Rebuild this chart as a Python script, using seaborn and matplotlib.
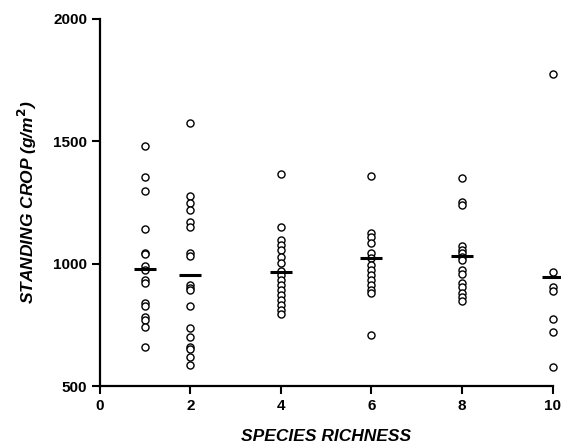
import numpy as np
import pandas as pd
import matplotlib
matplotlib.use("Agg")
import matplotlib.pyplot as plt
import seaborn as sns

# Data
richness_1 = [1480, 1355, 1298, 1140, 1045, 1040, 990, 975, 933, 921, 840, 827, 782, 772, 742, 661]
richness_2 = [1574, 1276, 1247, 1219, 1171, 1151, 1045, 1030, 913, 900, 892, 827, 736, 701, 661, 651, 620, 586]
richness_4 = [1366, 1151, 1097, 1076, 1056, 1028, 1004, 970, 954, 933, 913, 892, 872, 851, 831, 813, 793]
richness_6 = [1358, 1124, 1110, 1086, 1045, 1022, 995, 974, 954, 933, 913, 892, 879, 711]
richness_8 = [1351, 1250, 1240, 1072, 1056, 1043, 1028, 1015, 974, 958, 920, 903, 881, 865, 849]
richness_10 = [1775, 967, 905, 890, 773, 722, 579]
richness_levels = [1, 2, 4, 6, 8, 10]
mean_crop = [980, 955, 965, 1022, 1030, 945]

groups = [richness_1, richness_2, richness_4, richness_6, richness_8, richness_10]
df = pd.DataFrame({
    "richness": np.concatenate([[r] * len(g) for r, g in zip(richness_levels, groups)]),
    "crop": np.concatenate(groups),
})
means = pd.DataFrame({"richness": richness_levels, "crop": mean_crop})

sns.set_theme(style="white")
plt.rcParams["font.family"] = ["Liberation Sans", "DejaVu Sans"]
plt.rcParams["text.color"] = "black"
plt.rcParams["axes.labelcolor"] = "black"
plt.rcParams["xtick.color"] = "black"
plt.rcParams["ytick.color"] = "black"

fig = plt.figure(figsize=(5.61, 4.48), dpi=100)
ax = fig.add_axes([0.178, 0.138, 0.807, 0.82])

sns.scatterplot(data=df, x="richness", y="crop", ax=ax, marker="o", s=26,
                facecolor="white", edgecolor="black", linewidth=1.0,
                clip_on=False, legend=False, zorder=3)
sns.scatterplot(data=means, x="richness", y="crop", ax=ax, marker="_", s=240,
                color="black", linewidth=2.2, clip_on=False, legend=False, zorder=4)

ax.set_xlim(0, 10)
ax.set_ylim(500, 2000)
ax.set_xticks([0, 2, 4, 6, 8, 10])
ax.set_yticks([500, 1000, 1500, 2000])
for s in ["top", "right"]:
    ax.spines[s].set_visible(False)
for s in ["left", "bottom"]:
    ax.spines[s].set_color("black")
    ax.spines[s].set_linewidth(1.6)
ax.tick_params(axis="both", which="major", direction="out", length=6, width=1.5,
               color="black", labelcolor="black", labelsize=11, pad=3,
               bottom=True, left=True)
for lab in ax.get_xticklabels() + ax.get_yticklabels():
    lab.set_fontweight("bold")

ax.set_xlabel("SPECIES RICHNESS", fontsize=12.5, fontweight="bold", style="italic",
              labelpad=12, color="black")
ax.set_ylabel("STANDING CROP (g/m$^\\mathbf{2}$)", fontsize=12.5, fontweight="bold",
              style="italic", labelpad=10, color="black")
ax.grid(False)

fig.savefig("out.png", dpi=100)
